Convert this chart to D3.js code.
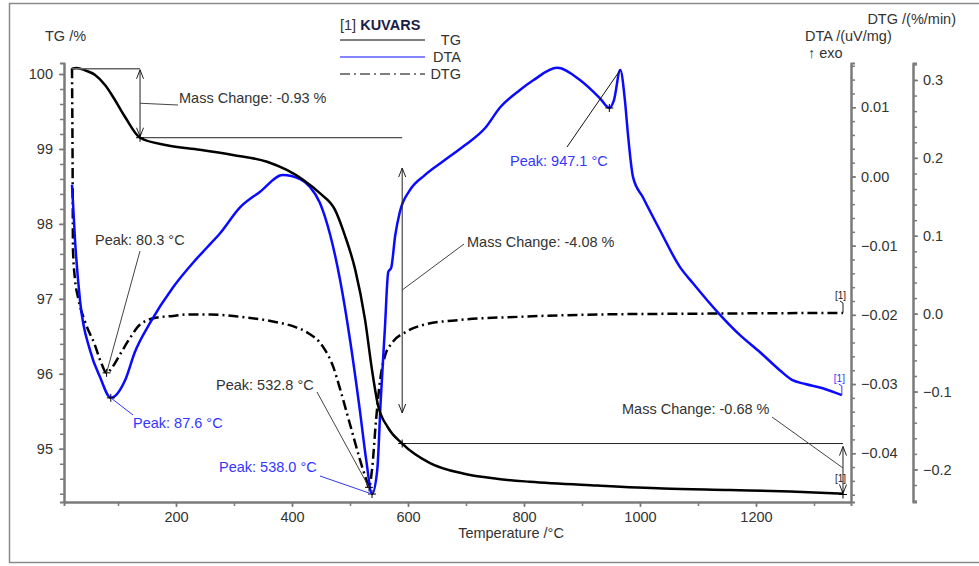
<!DOCTYPE html>
<html>
<head>
<meta charset="utf-8">
<script src="https://cdn.jsdelivr.net/npm/d3@7"></script>
<style>
body { margin: 0; background: #fff; }
text { font-family: "Liberation Sans", Arial, sans-serif; fill: #333; }
</style>
</head>
<body>
<script>
const width = 979;
const height = 566;

// TG curve: temperature /°C and mass /%
const tg_temp = [20.7, 29, 43, 60, 78, 95, 112, 138, 184, 241, 298, 357, 391, 419, 448, 474, 491, 509, 526, 538, 548, 565, 590, 638, 695, 753, 810, 926, 1040, 1155, 1259, 1350];
const tg_mass = [100.07, 100.08, 100.05, 99.99, 99.85, 99.65, 99.43, 99.15, 99.05, 98.99, 98.92, 98.83, 98.72, 98.59, 98.41, 98.19, 97.85, 97.39, 96.72, 96.05, 95.59, 95.29, 95.07, 94.81, 94.67, 94.60, 94.56, 94.51, 94.47, 94.45, 94.43, 94.40];

// DTA curve: temperature /°C and signal /(uV/mg)
const dta_temp = [20.7, 25.9, 34.5, 51.7, 69, 87.6, 112, 129, 155, 195, 229, 253, 276, 310, 345, 384, 414, 431, 448, 466, 483, 500, 517, 528, 538, 547, 553, 560, 566, 571, 578, 586, 603, 629, 664, 698, 733, 759, 793, 816, 857, 897, 931, 947.1, 955, 966, 974, 979, 988, 1005, 1034, 1069, 1091, 1138, 1172, 1207, 1241, 1262, 1285, 1315, 1348];
const dta_val = [-0.0012, -0.0092, -0.0179, -0.0251, -0.0290, -0.0320, -0.0295, -0.0254, -0.0212, -0.0160, -0.0125, -0.0103, -0.0082, -0.0045, -0.0022, 0.0002, -0.0004, -0.0015, -0.0038, -0.0085, -0.0150, -0.0236, -0.0338, -0.0410, -0.0459, -0.0424, -0.0323, -0.0222, -0.0138, -0.0132, -0.0085, -0.0051, -0.0020, 0.0002, 0.0024, 0.0045, 0.0070, 0.0100, 0.0125, 0.0139, 0.0157, 0.0139, 0.0113, 0.0099, 0.0110, 0.0154, 0.0110, 0.0063, -0.0001, -0.0030, -0.0077, -0.0131, -0.0154, -0.0200, -0.0229, -0.0254, -0.0280, -0.0294, -0.0300, -0.0306, -0.0316];

// DTG curve: temperature /°C and rate /(%/min)
const dtg_temp = [20.7, 21.6, 22.4, 25.9, 31, 43, 60, 72, 80.3, 90, 103, 121, 138, 167, 195, 219, 259, 310, 367, 405, 426, 453, 471, 483, 500, 517, 528, 532.8, 538, 545, 552, 560, 572, 595, 629, 690, 793, 931, 1103, 1350];
const dtg_val = [0.315, 0.210, 0.082, 0.044, 0.021, -0.010, -0.040, -0.065, -0.076, -0.069, -0.053, -0.031, -0.014, -0.005, -0.003, -0.001, -0.001, -0.004, -0.010, -0.017, -0.024, -0.042, -0.068, -0.097, -0.142, -0.187, -0.213, -0.223, -0.200, -0.136, -0.085, -0.055, -0.038, -0.024, -0.014, -0.008, -0.004, -0.001, 0.000, 0.001];

// peaks
const dtg_peak_temp = [80.3, 532.8];
const dtg_peak_val = [-0.076, -0.223];
const dta_peak_temp = [87.6, 538.0, 947.1];
const dta_peak_val = [-0.0320, -0.0459, 0.0099];

// mass change steps
const step_temp = [21, 138, 590, 1350];
const step_mass = [100.07, 99.15, 95.07, 94.39];
const step_labels = ["-0.93", "-4.08", "-0.68"];

// axis ticks
const temp_ticks = [200, 400, 600, 800, 1000, 1200];
const tg_ticks = [95, 96, 97, 98, 99, 100];
const dta_ticks = [-0.04, -0.03, -0.02, -0.01, 0.00, 0.01];
const dtg_ticks = [-0.2, -0.1, 0.0, 0.1, 0.2, 0.3];

const blue = "#0a0aff";
const blue_text = "#3535ff";
const axis_gray = "#7a7a7a";

let svg = d3.select("body").append("svg").attr("width", width).attr("height", height);
svg.append("rect").attr("width", width).attr("height", height).attr("fill", "#fff");
// outer frame
svg.append("rect").attr("x", 9.5).attr("y", 3.5).attr("width", 980).attr("height", 559)
    .attr("fill", "none").attr("stroke", "#8a8a8a").attr("stroke-width", 1.5);

// scales
const plot_left = 64, plot_right = 851, plot_top = 63, plot_bottom = 502;
let x = d3.scaleLinear().domain([6.9, 1363.8]).range([plot_left, plot_right]);
let y_tg = d3.scaleLinear().domain([94.29, 100.147]).range([plot_bottom, plot_top]);
let y_dta = d3.scaleLinear().domain([-0.04705, 0.0164]).range([plot_bottom, plot_top]);
let y_dtg = d3.scaleLinear().domain([-0.2418, 0.3218]).range([plot_bottom, plot_top]);

function styleAxis(g)
{
    g.select(".domain").attr("stroke", axis_gray).attr("stroke-width", 2);
    g.selectAll(".tick line").attr("stroke", axis_gray).attr("stroke-width", 1.5);
    g.selectAll(".tick text").attr("fill", "#333").style("font-size", "14.5px")
        .style("font-family", "'Liberation Sans', Arial, sans-serif");
}

function minorTicks(start, stop, step)
{
    let out = [];
    for (let v = start; v <= stop + step / 10; v += step) out.push(+v.toFixed(4));
    return out;
}

// minor ticks first, then major axes
svg.append("g").attr("transform", `translate(0,${plot_bottom})`)
    .call(d3.axisBottom(x).tickValues(minorTicks(100, 1300, 100)).tickSize(4).tickFormat(""))
    .call(styleAxis);
svg.append("g").attr("transform", `translate(0,${plot_bottom})`)
    .call(d3.axisBottom(x).tickValues(temp_ticks).tickSize(5).tickPadding(5).tickSizeOuter(0)
        .tickFormat(d3.format("d")))
    .call(styleAxis);

svg.append("g").attr("transform", `translate(${plot_left},0)`)
    .call(d3.axisLeft(y_tg).tickValues(minorTicks(94.4, 100, 0.2)).tickSize(4).tickFormat(""))
    .call(styleAxis);
svg.append("g").attr("transform", `translate(${plot_left},0)`)
    .call(d3.axisLeft(y_tg).tickValues(tg_ticks).tickSize(5).tickPadding(6).tickSizeOuter(0)
        .tickFormat(d3.format("d")))
    .call(styleAxis);

svg.append("g").attr("transform", `translate(${plot_right},0)`)
    .call(d3.axisRight(y_dta).tickValues(minorTicks(-0.046, 0.016, 0.002)).tickSize(4).tickFormat(""))
    .call(styleAxis);
svg.append("g").attr("transform", `translate(${plot_right},0)`)
    .call(d3.axisRight(y_dta).tickValues(dta_ticks).tickSize(5).tickPadding(5).tickSizeOuter(0)
        .tickFormat(d3.format(".2f")))
    .call(styleAxis);

svg.append("g").attr("transform", `translate(913,0)`)
    .call(d3.axisRight(y_dtg).tickValues(minorTicks(-0.24, 0.32, 0.02)).tickSize(4).tickFormat(""))
    .call(styleAxis);
svg.append("g").attr("transform", `translate(913,0)`)
    .call(d3.axisRight(y_dtg).tickValues(dtg_ticks).tickSize(5).tickPadding(5).tickSizeOuter(0)
        .tickFormat(d3.format(".1f")))
    .call(styleAxis);

// axis titles
function label(txt, px, py, opts = {})
{
    return svg.append("text").attr("x", px).attr("y", py).text(txt)
        .style("font-size", opts.size || "14.5px")
        .attr("text-anchor", opts.anchor || "start")
        .style("fill", opts.color || "#333");
}
label("TG /%", 45, 41);
label("DTG /(%/min)", 956, 24, {anchor: "end"});
label("DTA /(uV/mg)", 805, 41);
label("\u2191 exo", 808, 58);
label("Temperature /°C", 511, 538, {anchor: "middle"});

// curves
let group = svg.append("g");
const lineOf = (xs, ys, yscale) => d3.line().curve(d3.curveMonotoneX)
    .x((d, i) => x(xs[i])).y((d, i) => yscale(ys[i]))(xs);

group.append("path").attr("d", lineOf(dtg_temp, dtg_val, y_dtg))
    .attr("fill", "none").attr("stroke", "#000").attr("stroke-width", 2.5)
    .attr("stroke-dasharray", "10,4,2,4");
group.append("path").attr("d", lineOf(dta_temp, dta_val, y_dta))
    .attr("fill", "none").attr("stroke", blue).attr("stroke-width", 2.5);
group.append("path").attr("d", lineOf(tg_temp, tg_mass, y_tg))
    .attr("fill", "none").attr("stroke", "#000").attr("stroke-width", 2.5);

// annotation helpers
function seg(x1, y1, x2, y2, color = "#444", w = 1)
{
    group.append("line").attr("x1", x1).attr("y1", y1).attr("x2", x2).attr("y2", y2)
        .attr("stroke", color).attr("stroke-width", w);
}
function cross(px, py, color = "#000")
{
    seg(px - 4, py, px + 4, py, color, 1);
    seg(px, py - 4, px, py + 4, color, 1);
}
function doubleArrow(px, top, bottom)
{
    seg(px, top, px, bottom, "#222", 1);
    seg(px, top, px - 3.5, top + 9, "#222", 1);
    seg(px, top, px + 3.5, top + 9, "#222", 1);
    seg(px, bottom, px - 3.5, bottom - 9, "#222", 1);
    seg(px, bottom, px + 3.5, bottom - 9, "#222", 1);
}

// mass change steps
const sx = step_temp.map(x);
const sy = step_mass.map(y_tg);
seg(sx[0], sy[0], sx[1], sy[0], "#666", 1.5);
seg(sx[1], sy[1], sx[2], sy[1], "#222", 1);
seg(sx[2], sy[2], sx[3], sy[2], "#222", 1);
doubleArrow(sx[1], sy[0] + 1, sy[1] - 1);
doubleArrow(sx[2], 168, 413);
doubleArrow(sx[3], sy[2] + 3, sy[3] - 1);
cross(sx[1], sy[1]);
cross(sx[2], sy[2]);
cross(sx[3], sy[3]);

// mass change labels
seg(sx[1], (sy[0] + sy[1]) / 2, 178, 105);
label("Mass Change: " + step_labels[0] + " %", 179, 103);
seg(sx[2], 290, 464, 244);
label("Mass Change: " + step_labels[1] + " %", 467, 247);
seg(772, 417, sx[3], 468);
label("Mass Change: " + step_labels[2] + " %", 622, 414);

// DTG peaks (black)
const dtgPx = dtg_peak_temp.map(x);
const dtgPy = dtg_peak_val.map(y_dtg);
cross(dtgPx[0], dtgPy[0]);
cross(dtgPx[1], dtgPy[1]);
seg(140, 251, dtgPx[0], dtgPy[0], "#444");
label("Peak: " + dtg_peak_temp[0].toFixed(1) + " °C", 95, 245);
seg(317, 392, dtgPx[1], dtgPy[1], "#444");
label("Peak: " + dtg_peak_temp[1].toFixed(1) + " °C", 216, 390);

// DTA peaks (blue)
const dtaPx = dta_peak_temp.map(x);
const dtaPy = dta_peak_val.map(y_dta);
dtaPx.forEach((px, i) => cross(px, dtaPy[i], "#000"));
seg(dtaPx[0], dtaPy[0], 133, 415, blue_text);
label("Peak: " + dta_peak_temp[0].toFixed(1) + " °C", 133, 428, {color: blue_text});
seg(320, 476, dtaPx[1], dtaPy[1], blue_text);
label("Peak: " + dta_peak_temp[1].toFixed(1) + " °C", 219, 472, {color: blue_text});
// leader of the 947.1 peak runs to the sharp maximum
const spike = dta_val.indexOf(d3.max(dta_val.filter((d, i) => dta_temp[i] > 950)));
seg(567, 147, x(dta_temp[spike]), y_dta(dta_val[spike]), "#111");
label("Peak: " + dta_peak_temp[2].toFixed(1) + " °C", 510, 166, {color: blue_text});

// end-of-curve [1] markers
function endTag(px, py, ty, color)
{
    seg(px, py, px, ty + 4, color, 1);
    seg(px, ty + 4, px - 3, ty + 2, color, 1);
    label("[1]", px - 8, ty, {size: "10px", color: color});
}
endTag(x(dtg_temp[dtg_temp.length - 1]), y_dtg(dtg_val[dtg_val.length - 1]), 299, "#222");
endTag(x(dta_temp[dta_temp.length - 1]), y_dta(dta_val[dta_val.length - 1]), 382, blue_text);
label("[1]", x(tg_temp[tg_temp.length - 1]) - 8, 482, {size: "10px", color: "#222"});

// legend
let legend = svg.append("g");
legend.append("text").attr("x", 340).attr("y", 30).style("font-size", "14.5px").style("fill", "#333")
    .text("[1] ").append("tspan").style("font-weight", "bold").style("fill", "#1c1c48").text("KUVARS");
const legend_names = ["TG", "DTA", "DTG"];
const legend_colors = ["#000", blue, "#000"];
const legend_dash = [null, null, "10,4,2,4"];
legend_names.forEach((name, i) =>
{
    let ly = 40 + i * 17;
    legend.append("line").attr("x1", 340).attr("x2", 425).attr("y1", ly).attr("y2", ly)
        .attr("stroke", legend_colors[i]).attr("stroke-width", 1.2)
        .attr("stroke-dasharray", legend_dash[i]);
    legend.append("text").attr("x", 461).attr("y", ly + 5).attr("text-anchor", "end")
        .style("font-size", "14.5px").style("fill", "#333").text(name);
});
</script>
</body>
</html>
